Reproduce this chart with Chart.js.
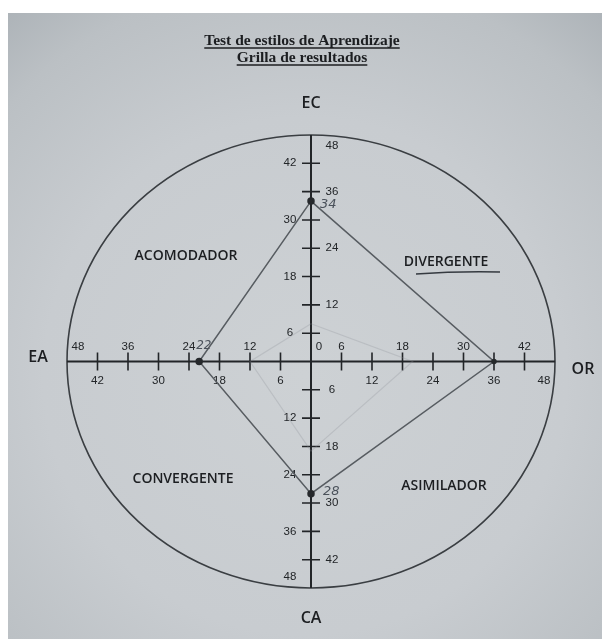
<!DOCTYPE html>
<html lang="es">
<head>
<meta charset="utf-8">
<title>Test de estilos de Aprendizaje</title>
<script src="https://cdn.jsdelivr.net/npm/chart.js@4.4.1/dist/chart.umd.min.js"></script>
<style>
  html, body { margin: 0; padding: 0; background: #fff; }
  #wrap { position: relative; width: 602px; height: 639px; overflow: hidden; }
  #paper {
    position: absolute; left: 8px; top: 13px; right: 0; bottom: 0;
    background:
      radial-gradient(ellipse 80% 75% at 50% 58%, #cdd1d4 0%, #c8ccd0 55%, #bbc0c4 85%, #adb3b8 100%);
  }
  #grilla { position: absolute; left: 0; top: 0; }
</style>
</head>
<body>
<div id="wrap">
  <div id="paper"></div>
  <canvas id="grilla" width="602" height="639"></canvas>
</div>
<script>
  // ---- datos de la grilla ----
  const AXES = ["EC", "OR", "CA", "EA"];        // arriba, derecha, abajo, izquierda
  const SCORES = [34, 36, 28, 22];              // puntajes marcados en cada eje
  const ERASED = [8, 20, 19, 12];               // trazo borrado (lápiz)
  const TICKS = [6, 12, 18, 24, 30, 36, 42, 48];
  const STYLES = ["ACOMODADOR", "DIVERGENTE", "CONVERGENTE", "ASIMILADOR"];
  const TITLE = ["Test de estilos de Aprendizaje", "Grilla de resultados"];
  const MAX = 48;

  // EC -> +y, OR -> +x, CA -> -y, EA -> -x
  const DIRS = [[0, 1], [1, 0], [0, -1], [-1, 0]];
  function toXY(values) {
    const pts = values.map((v, i) => ({ x: DIRS[i][0] * v, y: DIRS[i][1] * v }));
    pts.push(pts[0]);
    return pts;
  }

  const INK = "#222528";
  const NUM_FONT = "11.5px 'Liberation Sans', Arial, sans-serif";

  const grillaPlugin = {
    id: "grilla",
    beforeDatasetsDraw(chart) {
      const ctx = chart.ctx;
      const sx = chart.scales.x, sy = chart.scales.y;
      const cx = sx.getPixelForValue(0), cy = sy.getPixelForValue(0);
      const rx = sx.getPixelForValue(MAX) - cx;
      const ry = cy - sy.getPixelForValue(MAX);

      ctx.save();
      // circunferencia exterior
      ctx.strokeStyle = "#3a3e42";
      ctx.lineWidth = 1.6;
      ctx.beginPath();
      ctx.ellipse(cx, cy, rx, ry, 0, 0, Math.PI * 2);
      ctx.stroke();

      // ejes
      ctx.strokeStyle = INK;
      ctx.lineWidth = 2;
      ctx.beginPath();
      ctx.moveTo(sx.getPixelForValue(-MAX), cy);
      ctx.lineTo(sx.getPixelForValue(MAX), cy);
      ctx.moveTo(cx, sy.getPixelForValue(MAX));
      ctx.lineTo(cx, sy.getPixelForValue(-MAX));
      ctx.stroke();

      // marcas
      ctx.lineWidth = 1.6;
      ctx.beginPath();
      TICKS.forEach((t) => {
        if (t === MAX) return;
        [t, -t].forEach((v) => {
          const px = sx.getPixelForValue(v);
          ctx.moveTo(px, cy - 9); ctx.lineTo(px, cy + 9);
          const py = sy.getPixelForValue(v);
          ctx.moveTo(cx - 9, py); ctx.lineTo(cx + 9, py);
        });
      });
      ctx.stroke();

      // números de las marcas (alternados a cada lado)
      ctx.fillStyle = INK;
      ctx.font = NUM_FONT;
      ctx.textAlign = "center";
      ctx.textBaseline = "middle";
      TICKS.forEach((t, i) => {
        const edge = t === MAX ? 11 : 0;
        // OR: 6 arriba, 12 abajo...
        let up = i % 2 === 0;
        ctx.fillText(String(t), sx.getPixelForValue(t) - edge, cy + (up ? -15 : 19));
        // EA: 6 abajo, 12 arriba...
        up = i % 2 === 1;
        ctx.fillText(String(t), sx.getPixelForValue(-t) + edge, cy + (up ? -15 : 19));
        // EC: 6 izquierda, 12 derecha...
        let right = i % 2 === 1;
        ctx.fillText(String(t), cx + (right ? 21 : -21), sy.getPixelForValue(t) + edge);
        // CA: 6 derecha, 12 izquierda...
        right = i % 2 === 0;
        ctx.fillText(String(t), cx + (right ? 21 : -21), sy.getPixelForValue(-t) - edge);
      });
      ctx.fillText("0", cx + 8, cy - 15);
      ctx.restore();
    },
    afterDraw(chart) {
      const ctx = chart.ctx;
      const sx = chart.scales.x, sy = chart.scales.y;
      const cx = sx.getPixelForValue(0), cy = sy.getPixelForValue(0);
      ctx.save();

      // título subrayado
      ctx.fillStyle = "#1c1e21";
      ctx.strokeStyle = "#1c1e21";
      ctx.lineWidth = 1.3;
      ctx.textAlign = "center";
      ctx.textBaseline = "alphabetic";
      ctx.font = "bold 15.5px 'Liberation Serif', 'Times New Roman', serif";
      [[TITLE[0], 45], [TITLE[1], 62]].forEach(([txt, y]) => {
        const w = ctx.measureText(txt).width;
        ctx.fillText(txt, 302, y);
        ctx.beginPath();
        ctx.moveTo(302 - w / 2, y + 3);
        ctx.lineTo(302 + w / 2, y + 3);
        ctx.stroke();
      });

      // nombres de los ejes
      ctx.font = "600 16px 'Open Sans', sans-serif";
      ctx.textBaseline = "middle";
      ctx.fillText(AXES[0], cx, 103);
      ctx.fillText(AXES[1], 583, cy + 8);
      ctx.fillText(AXES[2], cx, 618);
      ctx.fillText(AXES[3], 38, cy - 4);

      // estilos en cada cuadrante
      ctx.font = "600 14px 'Open Sans', sans-serif";
      ctx.fillText(STYLES[0], 186, 256);
      ctx.fillText(STYLES[1], 446, 262);
      ctx.fillText(STYLES[2], 183, 479);
      ctx.fillText(STYLES[3], 444, 486);
      // subrayado a mano
      ctx.strokeStyle = "#353a40";
      ctx.lineWidth = 1.5;
      ctx.beginPath();
      ctx.moveTo(416, 274);
      ctx.quadraticCurveTo(458, 271, 500, 272);
      ctx.stroke();

      // puntajes escritos a mano junto a cada vértice
      ctx.fillStyle = "#4b525b";
      ctx.font = "italic 13px 'DejaVu Sans', sans-serif";
      ctx.textAlign = "left";
      const pts = toXY(SCORES);
      ctx.fillText(String(SCORES[0]), sx.getPixelForValue(pts[0].x) + 9, sy.getPixelForValue(pts[0].y) + 4);
      ctx.fillText(String(SCORES[2]), sx.getPixelForValue(pts[2].x) + 12, sy.getPixelForValue(pts[2].y) - 2);
      ctx.font = "italic 12px 'DejaVu Sans', sans-serif";
      ctx.fillText(String(SCORES[3]), sx.getPixelForValue(pts[3].x) - 3, sy.getPixelForValue(pts[3].y) - 16);
      ctx.restore();
    }
  };

  new Chart(document.getElementById("grilla"), {
    type: "scatter",
    data: {
      datasets: [
        {
          label: "borrado",
          data: toXY(ERASED),
          showLine: true,
          borderColor: "rgba(140,145,150,0.28)",
          borderWidth: 1.2,
          pointRadius: 0,
        },
        {
          label: "resultado",
          data: toXY(SCORES),
          showLine: true,
          borderColor: "#575c61",
          borderWidth: 1.5,
          pointRadius: [3, 2, 3, 3, 0],
          pointBackgroundColor: "#26292c",
          pointBorderColor: "#26292c",
        },
      ],
    },
    options: {
      responsive: false,
      animation: false,
      layout: { padding: { left: 67, right: 47, top: 135, bottom: 51 } },
      plugins: { legend: { display: false }, tooltip: { enabled: false } },
      scales: {
        x: { type: "linear", min: -MAX, max: MAX, display: false },
        y: { type: "linear", min: -MAX, max: MAX, display: false },
      },
    },
    plugins: [grillaPlugin],
  });
</script>
</body>
</html>
